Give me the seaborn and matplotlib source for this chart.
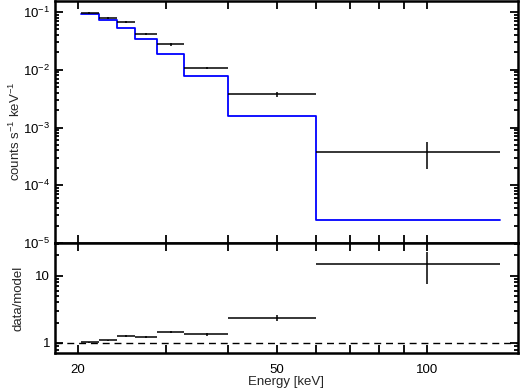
import matplotlib
matplotlib.use('Agg')
import matplotlib.pyplot as plt
import matplotlib.ticker as mticker
import seaborn as sns
import numpy as np
import pandas as pd

sns.set_theme(style='ticks')
plt.rcParams['font.family'] = ['Liberation Sans', 'DejaVu Sans']
plt.rcParams['mathtext.fontset'] = 'custom'
plt.rcParams['mathtext.rm'] = 'Liberation Sans'
plt.rcParams['mathtext.it'] = 'Liberation Sans'

# 能段边界 (keV)
bin_lo = [20.3, 22.0, 24.0, 26.0, 28.8, 32.6, 40.0, 60.0]
bin_hi = [22.0, 24.0, 26.0, 28.8, 32.6, 40.0, 60.0, 140.0]
bin_mid = [21.1, 23.0, 25.0, 27.4, 30.7, 36.3, 50.0, 100.0]

# 计数谱 (counts s^-1 keV^-1)
counts = [0.095, 0.078, 0.067, 0.042, 0.0274, 0.0107, 0.00375, 3.8e-4]
counts_lo = [0.0035, 0.003, 0.003, 0.002, 0.0013, 0.0006, 0.00035, 1.9e-4]
counts_hi = [0.0035, 0.003, 0.003, 0.002, 0.0013, 0.0006, 0.00045, 1.76e-4]
model = [0.091, 0.072, 0.053, 0.0344, 0.0188, 0.0079, 0.00157, 2.5e-5]

# data/model
ratio = [1.02, 1.09, 1.26, 1.23, 1.44, 1.35, 2.38, 15.1]
ratio_lo = [0.02, 0.03, 0.04, 0.04, 0.05, 0.06, 0.25, 7.6]
ratio_hi = [0.02, 0.03, 0.04, 0.04, 0.05, 0.06, 0.25, 7.2]

fig = plt.figure(figsize=(5.2, 3.92), dpi=100)
ax1 = fig.add_axes([0.1058, 0.380, 0.8902, 0.6175])
ax2 = fig.add_axes([0.1058, 0.0995, 0.8902, 0.2805], sharex=ax1)

xs = np.array(bin_lo)
xerr = [np.array(bin_mid) - xs, np.array(bin_hi) - np.array(bin_mid)]

# 模型阶梯线
step_df = pd.DataFrame({'E': bin_lo + [bin_hi[-1]], 'm': model + [model[-1]]})
sns.lineplot(data=step_df, x='E', y='m', ax=ax1, drawstyle='steps-post',
             color='#0000ff', lw=1.3, estimator=None, sort=False)
ax1.errorbar(bin_mid, counts, xerr=xerr, yerr=[counts_lo, counts_hi],
             fmt='none', ecolor='black', elinewidth=1.1, capsize=0)

ax2.errorbar(bin_mid, ratio, xerr=xerr, yerr=[ratio_lo, ratio_hi],
             fmt='none', ecolor='black', elinewidth=1.1, capsize=0)
ax2.axhline(1.0, color='black', ls=(0, (5, 3.5)), lw=1.0)

ax1.set_xscale('log')
ax1.set_yscale('log')
ax2.set_yscale('log')
ax1.set_xlim(18.0, 152.0)
ax1.set_ylim(1e-5, 0.155)
ax2.set_ylim(0.71, 30.6)

xt = [20, 30, 40, 50, 60, 70, 80, 90, 100]
for ax in (ax1, ax2):
    ax.xaxis.set_major_locator(mticker.FixedLocator(xt))
    ax.xaxis.set_minor_locator(mticker.NullLocator())
    ax.tick_params(which='both', direction='in', top=True, right=True,
                   width=1.3, labelsize=9.5, colors='black')
    ax.tick_params(which='major', length=6)
    ax.tick_params(which='minor', length=3)
    for sp in ax.spines.values():
        sp.set_linewidth(1.8)
        sp.set_color('black')
    ax.set_facecolor('white')

ax2.tick_params(axis='x', pad=8)
ax2.xaxis.set_major_formatter(mticker.FuncFormatter(
    lambda v, p: '%d' % v if v in (20, 50, 100) else ''))
plt.setp(ax1.get_xticklabels(), visible=False)

ax1.yaxis.set_major_locator(mticker.LogLocator(base=10, numticks=10))
ax1.yaxis.set_minor_locator(mticker.LogLocator(base=10, subs=np.arange(2, 10), numticks=10))
ax1.yaxis.set_minor_formatter(mticker.NullFormatter())

ax2.yaxis.set_major_locator(mticker.FixedLocator([1, 10]))
ax2.yaxis.set_major_formatter(mticker.FixedFormatter(['1', '10']))
ax2.yaxis.set_minor_locator(mticker.LogLocator(base=10, subs=np.arange(2, 10), numticks=10))
ax2.yaxis.set_minor_formatter(mticker.NullFormatter())

ax1.set_ylabel('counts s$^{-1}$ keV$^{-1}$', fontsize=9.5)
ax2.set_ylabel('data/model', fontsize=9.5)
ax2.set_xlabel('Energy [keV]', fontsize=9.5)
ax1.set_xlabel('')
ax1.yaxis.set_label_coords(-0.069, 0.46)
ax2.yaxis.set_label_coords(-0.066, 0.5)
ax2.xaxis.set_label_coords(0.5, -0.205)

fig.savefig('out.png', dpi=100, facecolor='white')
